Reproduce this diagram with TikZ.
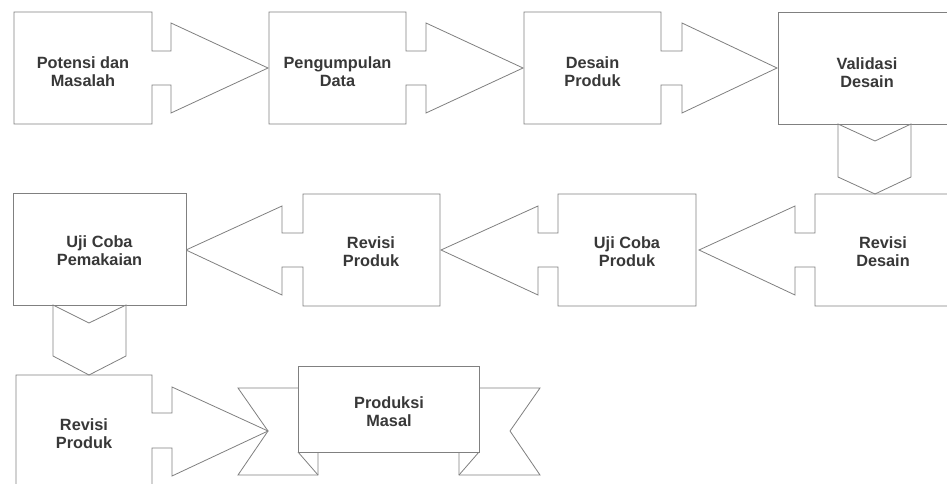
\documentclass[tikz,border=0pt]{standalone}
\usepackage{fontspec}
\setmainfont{Liberation Sans}
\begin{document}
\begin{tikzpicture}[x=1pt,y=-1pt,
  outline/.style={draw=black!50, line width=0.8pt, line join=miter, fill=white},
  openline/.style={draw=black!50, line width=0.8pt, line join=miter},
  label/.style={font=\bfseries\fontsize{16.3}{18}\selectfont, text=black!78, align=center, inner sep=0pt}]
\useasboundingbox[fill=white] (0,0) rectangle (947,484);
% Row 1
\draw[outline] (14,12) -- (152,12) -- (152,51) -- (171,51) -- (171,23) -- (268,68) -- (171,113) -- (171,85) -- (152,85) -- (152,124) -- (14,124) -- cycle;
\draw[outline] (269,12) -- (406,12) -- (406,51) -- (426,51) -- (426,23) -- (523,68) -- (426,113) -- (426,85) -- (406,85) -- (406,124) -- (269,124) -- cycle;
\draw[outline] (524,12) -- (661,12) -- (661,51) -- (682,51) -- (682,23) -- (777,68) -- (682,113) -- (682,85) -- (661,85) -- (661,124) -- (524,124) -- cycle;
\draw[openline] (950,12) -- (778,12) -- (778,124) -- (950,124);
% chevron 1
\draw[outline] (838,124) -- (875,141) -- (911,124) -- (911,177) -- (875,194) -- (838,177) -- cycle;
% Row 2
\draw[openline] (950,194) -- (815,194) -- (815,233) -- (795,233) -- (795,206) -- (699,250) -- (795,295) -- (795,267) -- (815,267) -- (815,306) -- (950,306);
\draw[outline] (696,194) -- (558,194) -- (558,233) -- (538,233) -- (538,206) -- (441,250) -- (538,295) -- (538,267) -- (558,267) -- (558,306) -- (696,306) -- cycle;
\draw[outline] (440,194) -- (303,194) -- (303,233) -- (282,233) -- (282,206) -- (186,250) -- (282,295) -- (282,267) -- (303,267) -- (303,306) -- (440,306) -- cycle;
\draw[outline] (13,193) rectangle (186,305);
% chevron 2
\draw[outline] (53,305) -- (89,323) -- (126,305) -- (126,356) -- (89,375) -- (53,356) -- cycle;
% Row 3
\draw[openline] (16,490) -- (16,375) -- (152,375) -- (152,413) -- (172,413) -- (172,387) -- (268,431) -- (172,476) -- (172,448) -- (152,448) -- (152,490);
% ribbon
\draw[openline] (298,388) -- (238,388) -- (268,431) -- (238,475) -- (318,475) -- (318,452);
\draw[openline] (298,452) -- (318,475);
\draw[openline] (479,388) -- (540,388) -- (510,431) -- (540,475) -- (459,475) -- (459,452);
\draw[openline] (479,452) -- (459,475);
\draw[outline] (298,366) rectangle (479,452);
% labels
\node[label] (potensi) at (83,72) {Potensi dan\\Masalah};
\node[label] (data) at (337.5,72) {Pengumpulan\\Data};
\node[label] (desain) at (592.5,72) {Desain\\Produk};
\node[label] (validasi) at (867,73) {Validasi\\Desain};
\node[label] (revdesain) at (883,252) {Revisi\\Desain};
\node[label] (ujiproduk) at (627,252) {Uji Coba\\Produk};
\node[label] (revproduk) at (371,252) {Revisi\\Produk};
\node[label] (ujipakai) at (99.5,251) {Uji Coba\\Pemakaian};
\node[label] (revproduk2) at (84,434) {Revisi\\Produk};
\node[label] (masal) at (389,412) {Produksi\\Masal};
\end{tikzpicture}
\end{document}
